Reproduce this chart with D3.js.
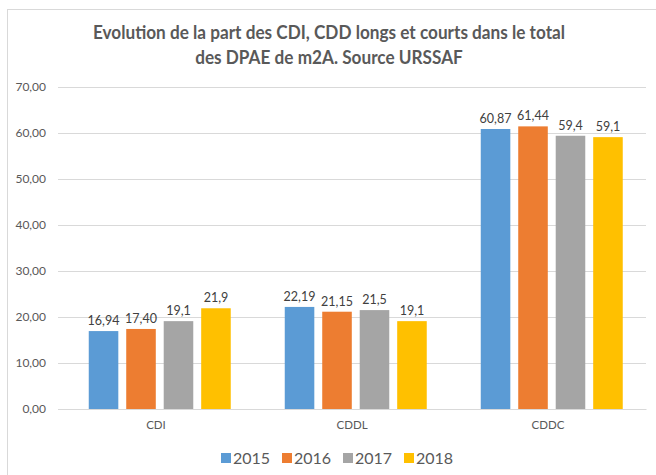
<!DOCTYPE html>
<html>
<head>
<meta charset="utf-8">
<script src="https://cdn.jsdelivr.net/npm/d3@7/dist/d3.min.js"></script>
<style>
  body { margin: 0; background: #fff; }
  text { font-family: Lato, "Open Sans", sans-serif; }
</style>
</head>
<body>
<svg id="chart"></svg>
<script>
const categories = ['CDI', 'CDDL', 'CDDC'];
const years = ['2015', '2016', '2017', '2018'];
const values = {
  '2015': [16.94, 22.19, 60.87],
  '2016': [17.40, 21.15, 61.44],
  '2017': [19.1, 21.5, 59.4],
  '2018': [21.9, 19.1, 59.1]
};
const valueLabels = {
  '2015': ['16,94', '22,19', '60,87'],
  '2016': ['17,40', '21,15', '61,44'],
  '2017': ['19,1', '21,5', '59,4'],
  '2018': ['21,9', '19,1', '59,1']
};
const yTicks = [0, 10, 20, 30, 40, 50, 60, 70];
const colors = ['#5B9BD5', '#ED7D31', '#A5A5A5', '#FFC000'];
const titleLines = ['Evolution de la part des CDI, CDD longs et courts dans le total', 'des DPAE de m2A. Source URSSAF'];

const W = 656, H = 475;
const svg = d3.select('#chart').attr('width', W).attr('height', H);

// frame
svg.append('rect').attr('x', 7.5).attr('y', 9.5).attr('width', W + 10).attr('height', H + 10)
  .attr('fill', 'none').attr('stroke', '#D9D9D9');

const plot = { left: 58, right: 646, top: 87, bottom: 409 };
const x = d3.scaleBand().domain(categories).range([plot.left, plot.right]);
const y = d3.scaleLinear().domain([0, 70]).range([plot.bottom, plot.top]);
const barW = 28, step = 35.5;
const xs = d3.scaleBand().domain(years).range([0, step * 4]).paddingInner(1 - barW / step).paddingOuter(0);

// title, squeezed to the narrow width of the original font
const title = svg.append('text').attr('text-anchor', 'middle').attr('fill', '#595959')
  .style('font-size', '18px').style('font-weight', 'bold');
const spans = titleLines.map((t, i) =>
  title.append('tspan').attr('x', 329).attr('y', 39 + i * 25).text(t));
const w0 = spans[0].node().getComputedTextLength();
const squeeze = Math.min(1, 472 / w0);
spans.forEach(s => {
  const w = s.node().getComputedTextLength();
  s.attr('textLength', w * squeeze).attr('lengthAdjust', 'spacingAndGlyphs');
});

// grid + y axis
const yAxis = d3.axisLeft(y).tickValues(yTicks).tickSize(-(plot.right - plot.left)).tickPadding(12)
  .tickFormat(d => d3.format('.2f')(d).replace('.', ','));
const gy = svg.append('g').attr('transform', `translate(${plot.left},0)`).call(yAxis);
gy.select('.domain').remove();
gy.selectAll('.tick line').attr('stroke', '#D9D9D9');
gy.selectAll('.tick text').attr('fill', '#595959').style('font-size', '12px');

// x axis
const xAxis = d3.axisBottom(x).tickSize(0).tickPadding(12);
const gx = svg.append('g').attr('transform', `translate(0,${plot.bottom})`).call(xAxis);
gx.select('.domain').attr('stroke', '#D9D9D9');
gx.selectAll('.tick text').attr('fill', '#595959').style('font-size', '11.5px');

// bars
years.forEach((yr, yi) => {
  const g = svg.append('g');
  const rows = categories.map((c, ci) => ({ c, v: values[yr][ci], l: valueLabels[yr][ci] }));
  const off = (x.bandwidth() - step * 4 + (step - barW)) / 2;
  g.selectAll('rect').data(rows).join('rect')
    .attr('x', d => x(d.c) + off + xs(yr))
    .attr('y', d => y(d.v))
    .attr('width', xs.bandwidth())
    .attr('height', d => y(0) - y(d.v))
    .attr('fill', colors[yi]);
  g.selectAll('text').data(rows).join('text')
    .attr('x', d => x(d.c) + off + xs(yr) + xs.bandwidth() / 2)
    .attr('y', d => y(d.v) - 6)
    .attr('text-anchor', 'middle').attr('fill', '#404040').style('font-size', '12.5px')
    .text(d => d.l);
});

// legend
const legend = svg.append('g');
years.forEach((yr, i) => {
  const lx = 221 + i * 61;
  legend.append('rect').attr('x', lx).attr('y', 453).attr('width', 10).attr('height', 10).attr('fill', colors[i]);
  legend.append('text').attr('x', lx + 12).attr('y', 463.5).attr('fill', '#595959')
    .style('font-size', '16px').text(yr);
});
</script>
</body>
</html>
